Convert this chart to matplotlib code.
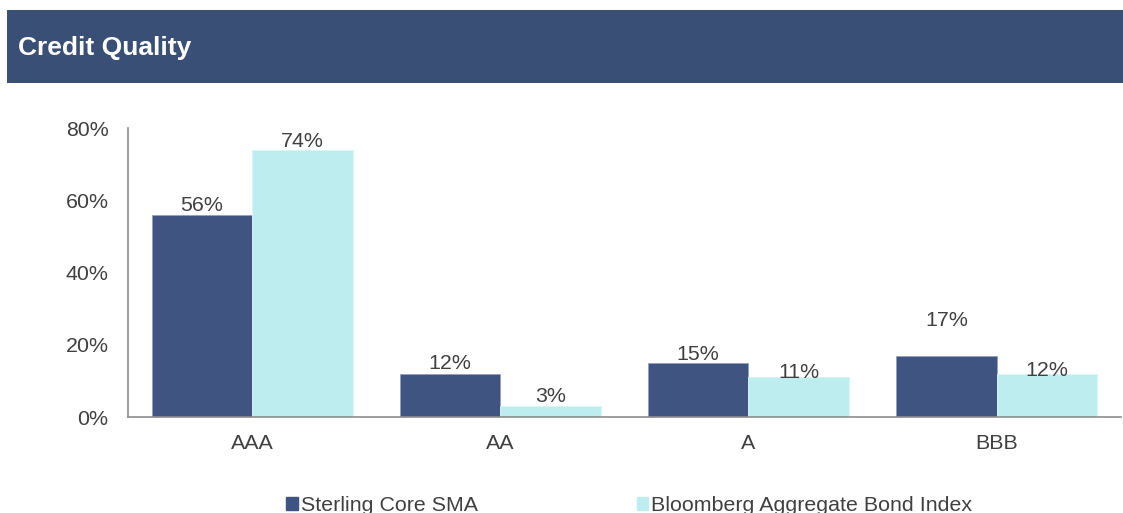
import matplotlib
matplotlib.use("Agg")
import matplotlib.pyplot as plt
import matplotlib.patches as mpatches
import numpy as np

plt.rcParams['font.family'] = ['Liberation Sans', 'DejaVu Sans']

categories = ["AAA", "AA", "A", "BBB"]
sma_values = [56, 12, 15, 17]
index_values = [74, 3, 11, 12]
series_names = ["Sterling Core SMA", "Bloomberg Aggregate Bond Index"]
y_ticks = [0, 20, 40, 60, 80]
title = "Credit Quality"

# label centre offsets above the bar top (points), mimicking the reference placement
sma_label_dy = [8.5, 8.5, 7.5, 26.5]
idx_label_dy = [7.5, 8.5, 5, 3.5]

dark = "#3F5480"
light = "#BDEDEE"
header = "#3A4F75"
txt = "#404040"
fs = 15.4

fig = plt.figure(figsize=(11.23, 5.13), dpi=100)
fig.patch.set_facecolor("white")

# header band
fig.patches.append(mpatches.Rectangle((0.0062, 0.838), 0.9938, 0.1425,
                                      transform=fig.transFigure, facecolor=header,
                                      edgecolor="none", zorder=0))
fig.text(0.016, 0.906, title, color="white", fontsize=19, fontweight="bold",
         va="center", ha="left")

ax = fig.add_axes([0.114, 0.187, 0.884, 0.563])
x = np.arange(len(categories))
w = 0.405
b1 = ax.bar(x - w / 2, sma_values, w, color=dark, label=series_names[0], zorder=2,
            edgecolor="#8FA0BF", linewidth=0.6)
b2 = ax.bar(x + w / 2, index_values, w, color=light, label=series_names[1], zorder=2,
            edgecolor="#D8F5F5", linewidth=0.6)

for bars, vals, dys in ((b1, sma_values, sma_label_dy), (b2, index_values, idx_label_dy)):
    for rect, v, dy in zip(bars, vals, dys):
        ax.annotate(f"{v}%", (rect.get_x() + rect.get_width() / 2, rect.get_height()),
                    xytext=(0, dy), textcoords="offset points", ha="center",
                    va="center_baseline", fontsize=fs, color=txt, zorder=3)

ax.set_xlim(-0.5, len(categories) - 0.5)
ax.set_ylim(0, 80)
ax.set_yticks(y_ticks)
ax.set_yticklabels([f"{t}%" for t in y_ticks])
ax.set_xticks(x)
ax.set_xticklabels(categories)
ax.tick_params(axis="both", length=0, labelsize=fs, colors=txt)
ax.tick_params(axis="y", pad=14)
ax.tick_params(axis="x", pad=12)
for s in ["top", "right"]:
    ax.spines[s].set_visible(False)
for s in ["left", "bottom"]:
    ax.spines[s].set_color("#8C8C8C")
    ax.spines[s].set_linewidth(1.2)

handles = [mpatches.Patch(color=dark), mpatches.Patch(color=light)]
leg = fig.legend(handles, series_names, loc="center", bbox_to_anchor=(0.5605, 0.015),
                 ncol=2, frameon=False, fontsize=fs, handlelength=0.55,
                 handleheight=0.55, handletextpad=0.15, columnspacing=7.4,
                 borderpad=0)
for t in leg.get_texts():
    t.set_color(txt)

fig.savefig("out.png", dpi=100, facecolor="white")
